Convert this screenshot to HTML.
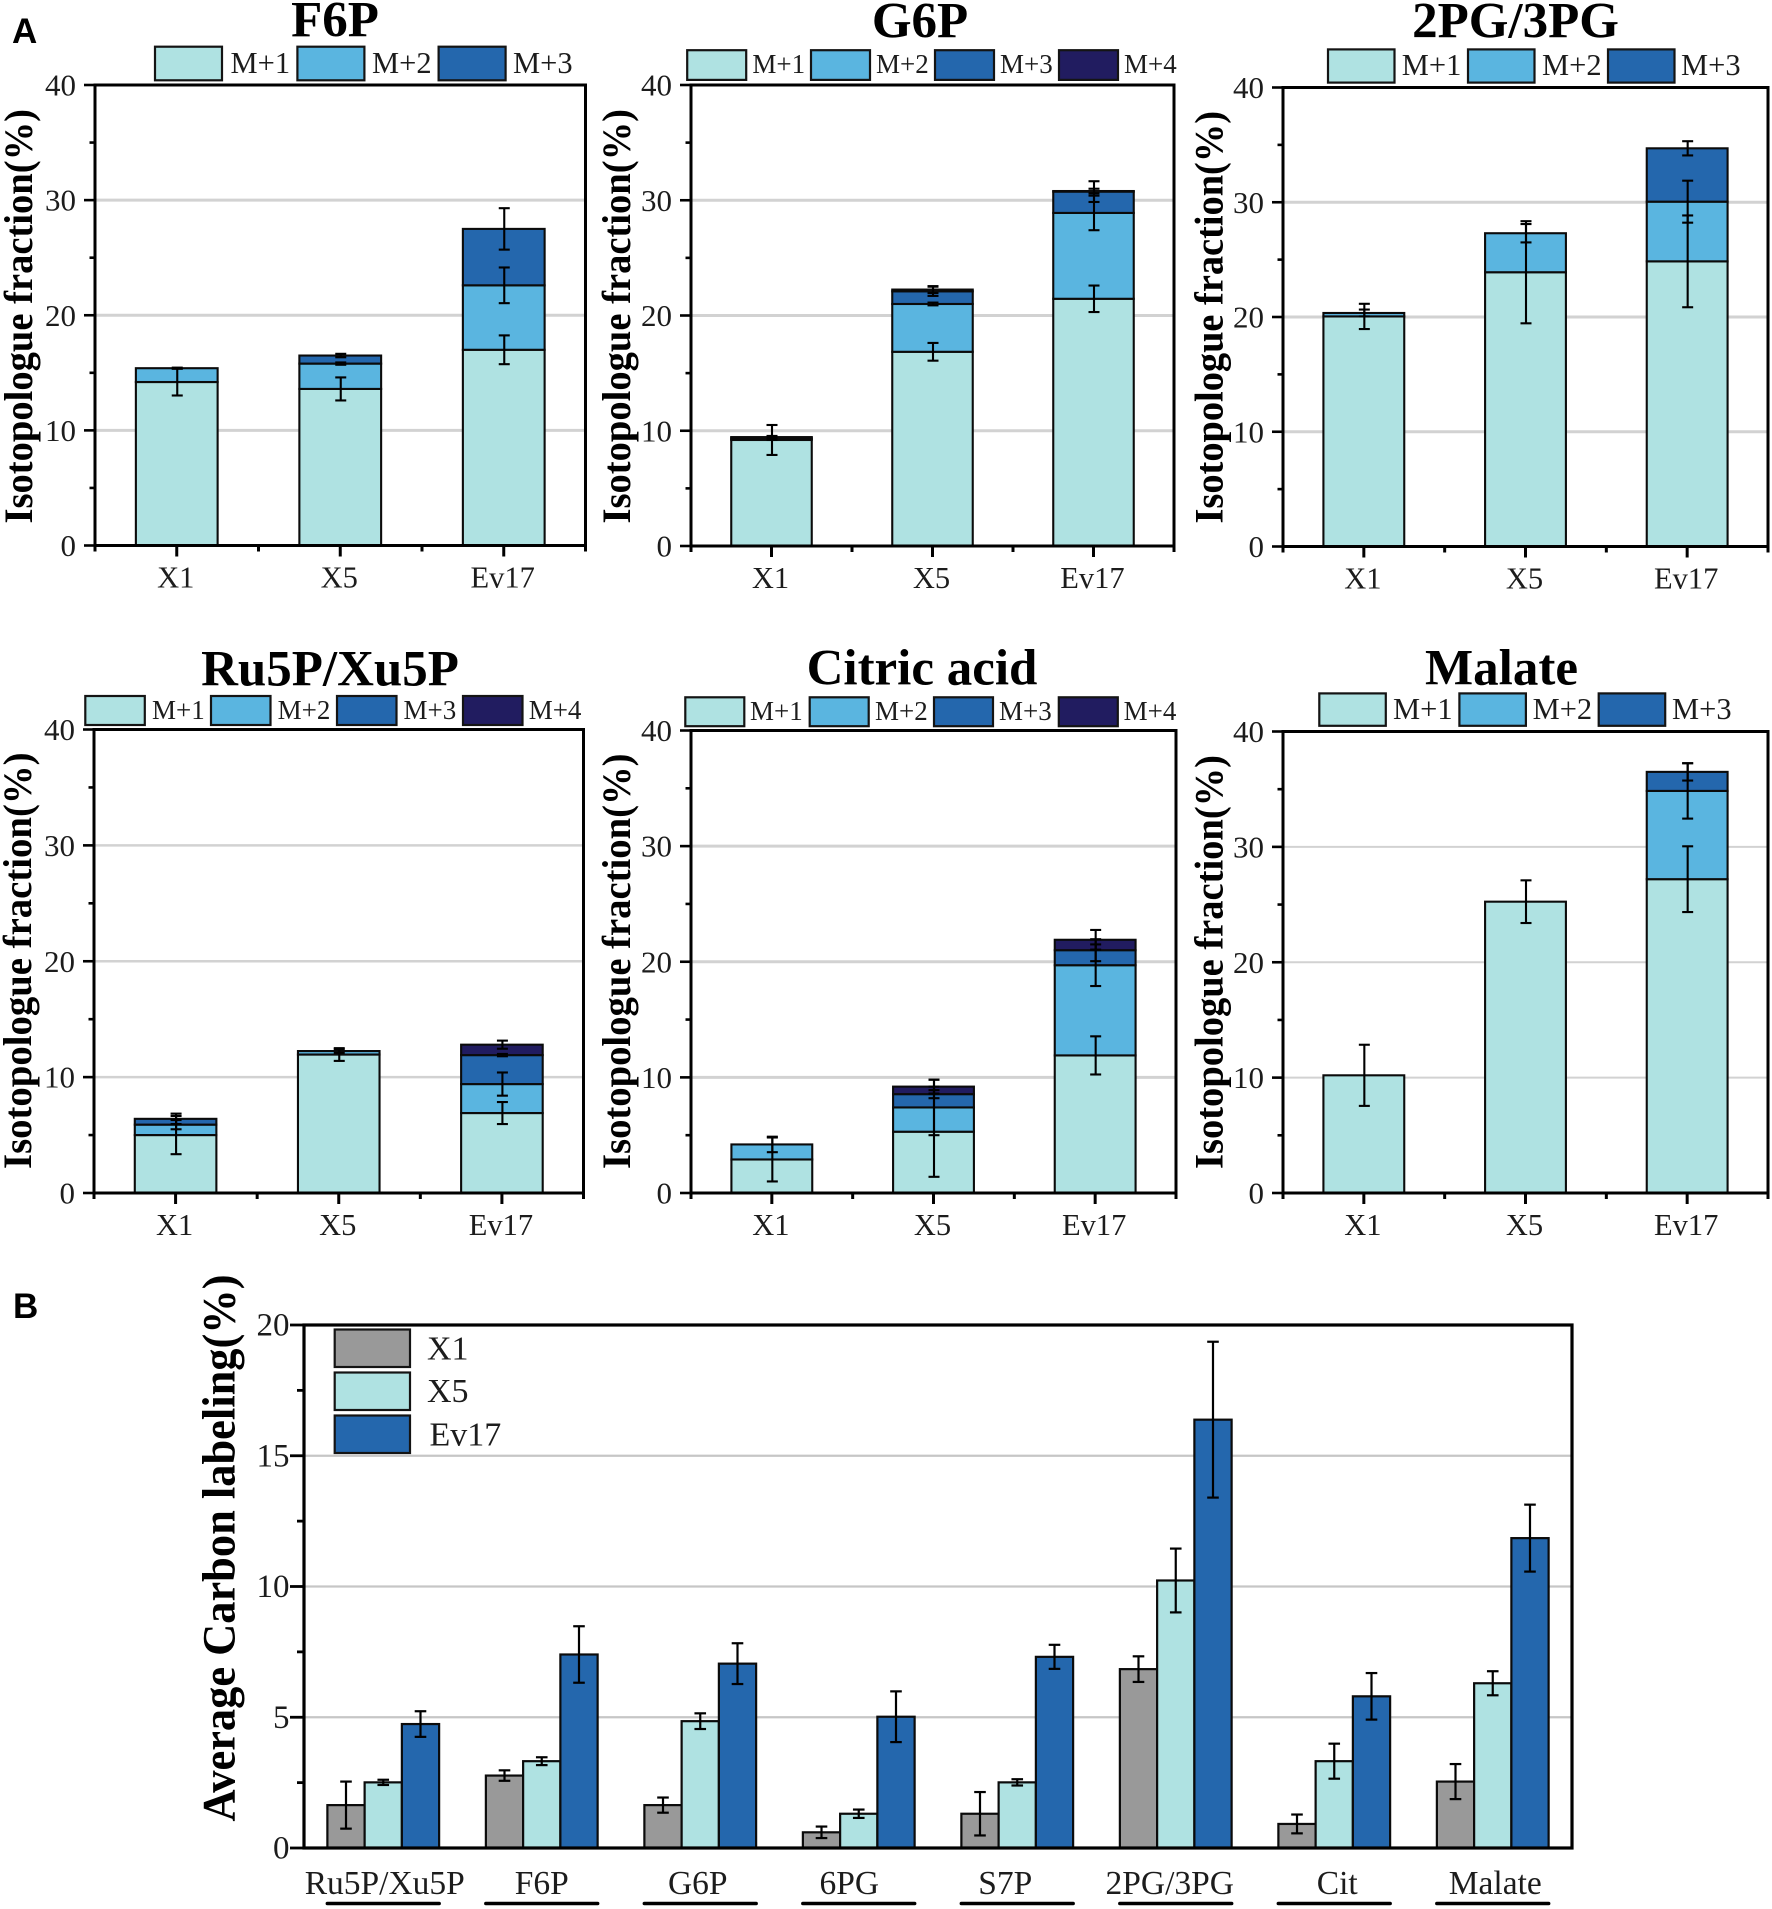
<!DOCTYPE html>
<html lang="en">
<head>
<meta charset="utf-8">
<title>Isotopologue fractions and average carbon labeling</title>
<style>
html,body{margin:0;padding:0;background:#fff}
svg{display:block}
text{font-family:"Liberation Serif",serif;fill:#1c1c1c}
</style>
</head>
<body>
<svg id="figure" xmlns="http://www.w3.org/2000/svg" width="1772" height="1909" viewBox="0 0 1772 1909">
  <rect x="0" y="0" width="1772" height="1909" fill="#fff"/>
  <text x="12" y="43" style="font-family:'Liberation Sans',sans-serif;font-weight:700;font-size:35px;fill:#000">A</text>
  <text x="13" y="1318" style="font-family:'Liberation Sans',sans-serif;font-weight:700;font-size:35px;fill:#000">B</text>
  <text x="335" y="36.5" text-anchor="middle" style="font-weight:700;font-size:51px;fill:#000">F6P</text>
  <text x="920" y="37.5" text-anchor="middle" style="font-weight:700;font-size:51px;fill:#000">G6P</text>
  <text x="1515.5" y="37.5" text-anchor="middle" style="font-weight:700;font-size:51px;fill:#000">2PG/3PG</text>
  <text x="330" y="685.5" text-anchor="middle" style="font-weight:700;font-size:51px;fill:#000">Ru5P/Xu5P</text>
  <text x="922" y="684.5" text-anchor="middle" style="font-weight:700;font-size:51px;fill:#000">Citric acid</text>
  <text x="1501.5" y="684.5" text-anchor="middle" style="font-weight:700;font-size:51px;fill:#000">Malate</text>
  <g id="plots"></g>
</svg>
<script>
/* ---------- panel A data (segment height of each isotopologue per strain) ---------- */
const strainCategories = ['X1', 'X5', 'Ev17'];
const isotopologueNames = ['M+1', 'M+2', 'M+3', 'M+4'];
const fractionTicks = [0, 10, 20, 30, 40];
const fractionMinorTicks = [5, 15, 25, 35];
const fractionGrid = [10, 20, 30];
const fractionMax = 40;

const f6pM1 = [14.2, 13.6, 17.0];
const f6pM2 = [1.2, 2.2, 5.6];
const f6pM3 = [0, 0.7, 4.9];
const f6pM1Err = [1.17, 1.0, 1.25];
const f6pM2Err = [0.05, 0.1, 1.55];
const f6pM3Err = [0, 0.15, 1.8];

const g6pM1 = [9.2, 16.85, 21.45];
const g6pM2 = [0.1, 4.15, 7.45];
const g6pM3 = [0.1, 1.1, 1.85];
const g6pM4 = [0.05, 0.15, 0.05];
const g6pM1Err = [1.3, 0.77, 1.15];
const g6pM2Err = [0.1, 0.12, 1.5];
const g6pM3Err = [0.1, 0.4, 0.9];
const g6pM4Err = [0.1, 0.3, 0.2];

const pgM1 = [20.05, 23.9, 24.85];
const pgM2 = [0.3, 3.4, 5.2];
const pgM3 = [0, 0, 4.65];
const pgM1Err = [1.1, 4.45, 4.0];
const pgM2Err = [0.3, 0.8, 1.83];
const pgM3Err = [0, 0, 0.62];

const ruM1 = [5.0, 11.95, 6.9];
const ruM2 = [0.9, 0.3, 2.5];
const ruM3 = [0.5, 0, 2.5];
const ruM4 = [0, 0, 0.9];
const ruM1Err = [1.65, 0.55, 0.95];
const ruM2Err = [0.4, 0.15, 1.0];
const ruM3Err = [0.45, 0, 0.1];
const ruM4Err = [0, 0, 0.35];

const citM1 = [2.9, 5.3, 11.9];
const citM2 = [1.3, 2.1, 7.8];
const citM3 = [0, 1.15, 1.3];
const citM4 = [0, 0.65, 0.9];
const citM1Err = [1.9, 3.9, 1.65];
const citM2Err = [0.67, 2.4, 1.8];
const citM3Err = [0, 0.35, 0.95];
const citM4Err = [0, 0.6, 0.85];

const malM1 = [10.2, 25.25, 27.2];
const malM2 = [0, 0, 7.65];
const malM3 = [0, 0, 1.65];
const malM1Err = [2.65, 1.85, 2.85];
const malM2Err = [0, 0, 2.4];
const malM3Err = [0, 0, 0.75];

/* ---------- panel B data ---------- */
const metaboliteCategories = ['Ru5P/Xu5P', 'F6P', 'G6P', '6PG', 'S7P', '2PG/3PG', 'Cit', 'Malate'];
const labelingStrains = ['X1', 'X5', 'Ev17'];
const labelingX1 = [1.64, 2.77, 1.64, 0.6, 1.31, 6.84, 0.92, 2.54];
const labelingX5 = [2.51, 3.32, 4.85, 1.31, 2.51, 10.23, 3.32, 6.3];
const labelingEv17 = [4.74, 7.4, 7.05, 5.02, 7.31, 16.38, 5.8, 11.85];
const labelingX1Err = [0.9, 0.2, 0.29, 0.22, 0.83, 0.49, 0.36, 0.67];
const labelingX5Err = [0.1, 0.15, 0.3, 0.16, 0.12, 1.22, 0.67, 0.46];
const labelingEv17Err = [0.49, 1.08, 0.78, 0.97, 0.46, 2.98, 0.89, 1.28];
const labelingTicks = [0, 5, 10, 15, 20];
const labelingMinorTicks = [2.5, 7.5, 12.5, 17.5];
const labelingGrid = [5, 10, 15];
const labelingMax = 20;

/* ---------- colours ---------- */
const isoColors = ['#AFE2E2', '#5AB5E0', '#2467AD', '#211C60'];
const strainColors = ['#999999', '#AFE2E2', '#2467AD'];

/* ---------- panel definitions: series references + layout kept apart ---------- */
const panelSeries = [
  { key: 'f6p', vals: [f6pM1, f6pM2, f6pM3], errs: [f6pM1Err, f6pM2Err, f6pM3Err] },
  { key: 'g6p', vals: [g6pM1, g6pM2, g6pM3, g6pM4], errs: [g6pM1Err, g6pM2Err, g6pM3Err, g6pM4Err] },
  { key: 'pg', vals: [pgM1, pgM2, pgM3], errs: [pgM1Err, pgM2Err, pgM3Err] },
  { key: 'ru5p', vals: [ruM1, ruM2, ruM3, ruM4], errs: [ruM1Err, ruM2Err, ruM3Err, ruM4Err] },
  { key: 'citric', vals: [citM1, citM2, citM3, citM4], errs: [citM1Err, citM2Err, citM3Err, citM4Err] },
  { key: 'malate', vals: [malM1, malM2, malM3], errs: [malM1Err, malM2Err, malM3Err] }
];
const panelFrames = [
  { l: 95, r: 585.5, t: 85, b: 545.5, titleX: 32, titleT: 109, titleB: 523.5, grid: 3,
    sw: [155, 297.4, 438.6], swW: 67, swT: 46.7, swB: 80.3, lx: [230.5, 372, 513], ly: 73, fs: 30.5 },
  { l: 691, r: 1174, t: 85, b: 546, titleX: 630, titleT: 109, titleB: 523.5, grid: 3,
    sw: [687.2, 811, 935, 1059], swW: 59, swT: 50.2, swB: 79.9, lx: [752.4, 876, 1000, 1124], ly: 73, fs: 27 },
  { l: 1283, r: 1768, t: 87.5, b: 546.5, titleX: 1222.5, titleT: 111, titleB: 523.5, grid: 3,
    sw: [1328, 1468, 1608], swW: 66.5, swT: 49.4, swB: 82.6, lx: [1401.8, 1542, 1681], ly: 75, fs: 30.5 },
  { l: 94, r: 583.5, t: 729.5, b: 1193, titleX: 31, titleT: 752.5, titleB: 1169, grid: 2.6,
    sw: [85.3, 211, 337, 463], swW: 59.5, swT: 696, swB: 725, lx: [152, 277.6, 403.5, 528.7], ly: 719, fs: 27 },
  { l: 691, r: 1176, t: 730.5, b: 1193, titleX: 630, titleT: 753.5, titleB: 1169, grid: 3,
    sw: [685.3, 809.7, 934, 1058.8], swW: 59, swT: 697.3, swB: 726.2, lx: [750, 875, 999, 1123.6], ly: 720, fs: 27 },
  { l: 1283, r: 1768, t: 731.5, b: 1193, titleX: 1222.5, titleT: 755, titleB: 1169, grid: 2,
    sw: [1319.3, 1459.4, 1598.7], swW: 66.5, swT: 693.4, swB: 725.8, lx: [1393, 1532.6, 1672], ly: 719, fs: 30.5 }
];

const SVGNS = 'http://www.w3.org/2000/svg';
const root = document.getElementById('plots');

function make(tag, parent, attrs) {
  const el = document.createElementNS(SVGNS, tag);
  for (const k in attrs) el.setAttribute(k, attrs[k]);
  parent.appendChild(el);
  return el;
}

function drawLine(parent, name, x1, y1, x2, y2, color, width) {
  const el = make('line', parent, { x1: x1, y1: y1, x2: x2, y2: y2, stroke: color, 'stroke-width': width });
  
  
  return el;
}

function drawText(parent, name, str, x, y, size, anchor) {
  const el = make('text', parent, { x: x, y: y, 'text-anchor': anchor });
  el.style.fontSize = size + 'px';
  el.textContent = str;
  
  
  return el;
}

function drawBar(parent, name, x, w, yTop, yBottom, color, sw) {
  const el = make('rect', parent, { x: x, y: yTop, width: w, height: Math.max(0, yBottom - yTop), fill: color, stroke: '#0b0b0b', 'stroke-width': sw });
  
  
  return el;
}

function drawErr(parent, name, cx, yHi, yLo, capHalf, width) {
  const g = make('g', parent, { stroke: '#000', 'stroke-width': width });
  
  
  make('line', g, { x1: cx, y1: yHi, x2: cx, y2: yLo });
  make('line', g, { x1: cx - capHalf, y1: yHi, x2: cx + capHalf, y2: yHi });
  make('line', g, { x1: cx - capHalf, y1: yLo, x2: cx + capHalf, y2: yLo });
  return g;
}

function drawSwatch(parent, name, x, y, w, h, color) {
  const el = make('rect', parent, { x: x, y: y, width: w, height: h, fill: color, stroke: '#141414', 'stroke-width': 2.2 });
  
  
  return el;
}

function drawFrame(parent, name, l, t, r, b, width) {
  const el = make('rect', parent, { x: l, y: t, width: r - l, height: b - t, fill: 'none', stroke: '#000', 'stroke-width': width });
  
  
  return el;
}

/* ---------- panel A ---------- */
panelSeries.forEach(function (series, p) {
  const f = panelFrames[p];
  const g = make('g', root, {});
  
  

  const yScale = function (v) { return f.b - (v / fractionMax) * (f.b - f.t); };
  const band = (f.r - f.l) / strainCategories.length;
  const xScale = function (i) { return f.l + band * (i + 0.5); };
  const barW = band * 0.5;

  fractionGrid.forEach(function (v) {
    drawLine(g, 'gridline-' + v, f.l, yScale(v), f.r, yScale(v), '#D2D2D2', f.grid);
  });

  strainCategories.forEach(function (cat, i) {
    let base = 0;
    const tops = [];
    series.vals.forEach(function (vals, s) {
      const v = vals[i];
      if (!v) { tops.push(null); return; }
      const top = base + v;
      drawBar(g, 'bar-' + cat.toLowerCase() + '-m' + (s + 1), xScale(i) - barW / 2, barW, yScale(top), yScale(base), isoColors[s], 2.1);
      tops.push(top);
      base = top;
    });
    tops.forEach(function (top, s) {
      if (top === null) return;
      const e = series.errs[s][i];
      drawErr(g, 'error-bar-' + cat.toLowerCase() + '-m' + (s + 1), xScale(i) + 0.5, yScale(top + e), yScale(top - e), 5.5, 2.1);
    });
  });

  drawFrame(g, 'plot-frame', f.l, f.t, f.r, f.b, 3);

  fractionTicks.forEach(function (v) {
    drawLine(g, 'y-tick-' + v, f.l - 11, yScale(v), f.l, yScale(v), '#000', 2.6);
    drawText(g, 'y-tick-label-' + v, String(v), f.l - 19, yScale(v) + 10.5, 31, 'end');
  });
  fractionMinorTicks.forEach(function (v) {
    drawLine(g, 'y-minor-tick-' + v, f.l - 5.5, yScale(v), f.l, yScale(v), '#000', 2.6);
  });
  strainCategories.forEach(function (cat, i) {
    drawLine(g, 'x-tick-' + cat.toLowerCase(), xScale(i), f.b, xScale(i), f.b + 11, '#000', 3);
    drawText(g, 'x-tick-label-' + cat.toLowerCase(), cat, xScale(i) - 1, f.b + 42, 30.5, 'middle');
  });
  for (let i = 0; i <= strainCategories.length; i++) {
    drawLine(g, 'x-minor-tick', f.l + band * i, f.b, f.l + band * i, f.b + 6, '#000', 3);
  }

  const yTitle = make('text', g, {
    x: 0, y: 0, 'text-anchor': 'middle', textLength: f.titleB - f.titleT, lengthAdjust: 'spacingAndGlyphs',
    transform: 'translate(' + f.titleX + ',' + ((f.titleT + f.titleB) / 2) + ') rotate(-90)'
  });
  yTitle.style.fontWeight = '700';
  yTitle.style.fontSize = '40px';
  yTitle.style.fill = '#000';
  yTitle.textContent = 'Isotopologue fraction(%)';
  
  

  f.sw.forEach(function (sx, s) {
    drawSwatch(g, 'legend-swatch-m' + (s + 1), sx, f.swT, f.swW, f.swB - f.swT, isoColors[s]);
    drawText(g, 'legend-label-m' + (s + 1), isotopologueNames[s], f.lx[s], f.ly, f.fs, 'start');
  });
});

/* ---------- panel B ---------- */
(function () {
  const l = 304, r = 1572, t = 1325, b = 1848;
  const g = make('g', root, {});
  
  

  const yScale = function (v) { return b - (v / labelingMax) * (b - t); };
  const band = (r - l) / metaboliteCategories.length;
  const xScale = function (i) { return l + band * (i + 0.5); };
  const barW = band * 0.235;
  const labelShift = [1.5, 0, -2.5, -9.5, -12, -6, 3, 2.5];
  const series = [labelingX1, labelingX5, labelingEv17];
  const errors = [labelingX1Err, labelingX5Err, labelingEv17Err];

  labelingGrid.forEach(function (v) {
    drawLine(g, 'gridline-' + v, l, yScale(v), r, yScale(v), '#C6C6C6', 2.2);
  });

  metaboliteCategories.forEach(function (cat, i) {
    series.forEach(function (vals, s) {
      const x = xScale(i) + (s - 1.5) * barW;
      drawBar(g, 'bar-' + cat.toLowerCase() + '-' + labelingStrains[s].toLowerCase(), x, barW, yScale(vals[i]), yScale(0), strainColors[s], 2.2);
    });
  });
  metaboliteCategories.forEach(function (cat, i) {
    series.forEach(function (vals, s) {
      const cx = xScale(i) + (s - 1) * barW;
      drawErr(g, 'error-bar-' + cat.toLowerCase() + '-' + labelingStrains[s].toLowerCase(), cx, yScale(vals[i] + errors[s][i]), yScale(vals[i] - errors[s][i]), 5.8, 2.2);
    });
  });

  drawFrame(g, 'plot-frame', l, t, r, b, 3.2);

  labelingTicks.forEach(function (v) {
    drawLine(g, 'y-tick-' + v, l - 14, yScale(v), l, yScale(v), '#000', 2.8);
    drawText(g, 'y-tick-label-' + v, String(v), l - 14.5, yScale(v) + 10.5, 33, 'end');
  });
  labelingMinorTicks.forEach(function (v) {
    drawLine(g, 'y-minor-tick-' + v, l - 7, yScale(v), l, yScale(v), '#000', 2.8);
  });

  metaboliteCategories.forEach(function (cat, i) {
    drawText(g, 'x-label-' + cat.toLowerCase(), cat, xScale(i) + labelShift[i], 1894, 33.5, 'middle');
    const u = drawLine(g, 'category-underline-' + cat.toLowerCase(), xScale(i) - barW * 1.5, 1903.5, xScale(i) + barW * 1.5, 1903.5, '#000', 3.6);
    u.setAttribute('stroke-linecap', 'round');
  });

  const yTitle = make('text', g, {
    x: 0, y: 0, 'text-anchor': 'middle', textLength: 547, lengthAdjust: 'spacingAndGlyphs',
    transform: 'translate(234.5,1548) rotate(-90)'
  });
  yTitle.style.fontWeight = '700';
  yTitle.style.fontSize = '47px';
  yTitle.style.fill = '#000';
  yTitle.textContent = 'Average Carbon labeling(%)';
  
  

  const swatchTops = [1329.5, 1372.5, 1415.5];
  const textX = [427, 427, 429.5];
  const textY = [1359.5, 1402, 1445.5];
  labelingStrains.forEach(function (name, s) {
    drawSwatch(g, 'legend-swatch-' + name.toLowerCase(), 334.7, swatchTops[s], 75.3, 37.5, strainColors[s]);
    drawText(g, 'legend-label-' + name.toLowerCase(), name, textX[s], textY[s], 34, 'start');
  });
})();
</script>
</body>
</html>
